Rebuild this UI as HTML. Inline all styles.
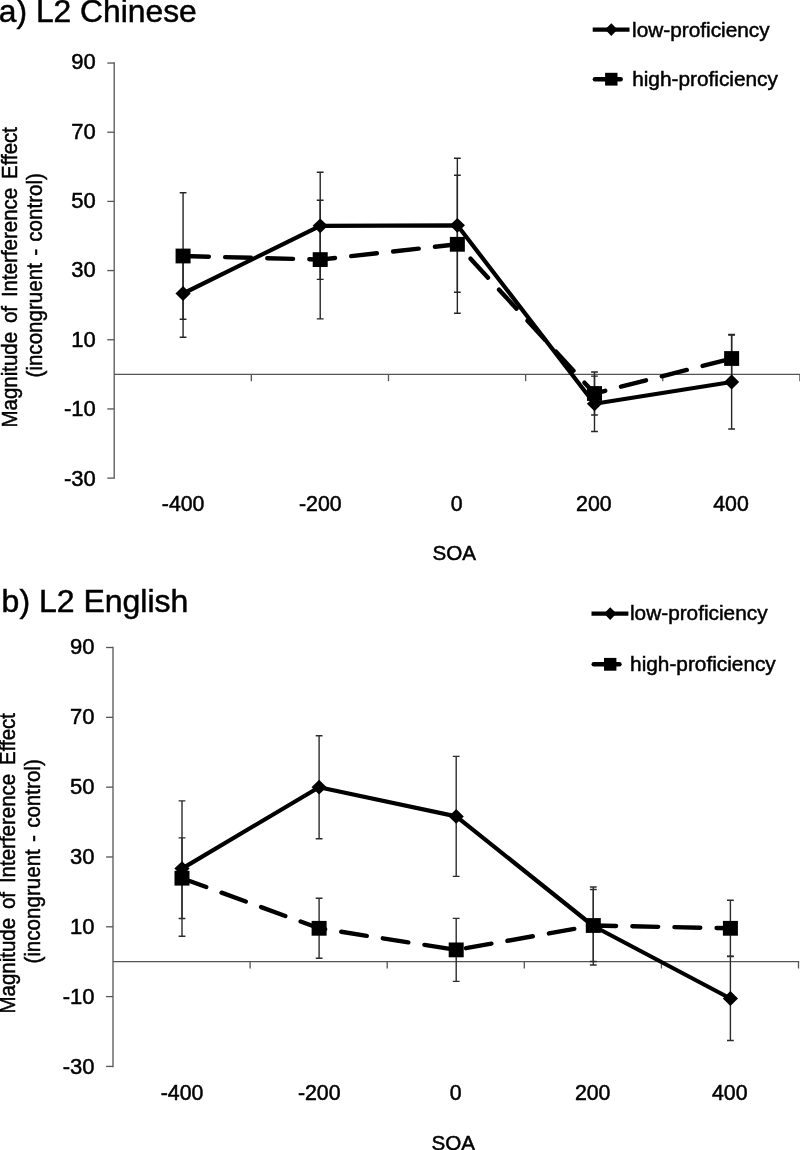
<!DOCTYPE html>
<html><head><meta charset="utf-8"><title>Figure</title>
<style>html,body{margin:0;padding:0;background:#fff}svg{display:block;will-change:transform}text{font-family:"Liberation Sans",sans-serif;fill:#000;stroke:#000;stroke-width:0.5px}</style></head>
<body><svg width="800" height="1150" viewBox="0 0 800 1150">
<rect width="800" height="1150" fill="#fff"/>
<path d="M114.20 62.34V478.82" stroke="#555" stroke-width="1.3" fill="none"/>
<path d="M107.30 63.04H114.20" stroke="#555" stroke-width="1.3" fill="none"/>
<text x="95.75" y="69.40" text-anchor="end" font-size="22">90</text>
<path d="M107.30 132.22H114.20" stroke="#555" stroke-width="1.3" fill="none"/>
<text x="95.75" y="138.76" text-anchor="end" font-size="22">70</text>
<path d="M107.30 201.40H114.20" stroke="#555" stroke-width="1.3" fill="none"/>
<text x="95.75" y="208.12" text-anchor="end" font-size="22">50</text>
<path d="M107.30 270.58H114.20" stroke="#555" stroke-width="1.3" fill="none"/>
<text x="95.75" y="277.48" text-anchor="end" font-size="22">30</text>
<path d="M107.30 339.76H114.20" stroke="#555" stroke-width="1.3" fill="none"/>
<text x="95.75" y="346.84" text-anchor="end" font-size="22">10</text>
<path d="M107.30 408.94H114.20" stroke="#555" stroke-width="1.3" fill="none"/>
<text x="95.75" y="416.20" text-anchor="end" font-size="22">-10</text>
<path d="M107.30 478.12H114.20" stroke="#555" stroke-width="1.3" fill="none"/>
<text x="95.75" y="485.56" text-anchor="end" font-size="22">-30</text>
<path d="M114.20 374.35H800.60" stroke="#555" stroke-width="1.3" fill="none"/>
<path d="M251.34 374.35v6.8" stroke="#555" stroke-width="1.3" fill="none"/>
<path d="M388.48 374.35v6.8" stroke="#555" stroke-width="1.3" fill="none"/>
<path d="M525.62 374.35v6.8" stroke="#555" stroke-width="1.3" fill="none"/>
<path d="M662.76 374.35v6.8" stroke="#555" stroke-width="1.3" fill="none"/>
<path d="M799.90 374.35v6.8" stroke="#555" stroke-width="1.3" fill="none"/>
<text x="183.17" y="511.22" text-anchor="middle" font-size="21.3">-400</text>
<text x="320.31" y="511.22" text-anchor="middle" font-size="21.3">-200</text>
<text x="456.75" y="511.22" text-anchor="middle" font-size="21.3">0</text>
<text x="593.89" y="511.22" text-anchor="middle" font-size="21.3">200</text>
<text x="731.03" y="511.22" text-anchor="middle" font-size="21.3">400</text>
<text x="454.35" y="560.02" text-anchor="middle" font-size="20.6">SOA</text>
<path d="M183.07 249.70V337.30M179.67 249.70h6.8M179.67 337.30h6.8" stroke="#262626" stroke-width="1.4" fill="none"/>
<path d="M320.21 172.20V279.40M316.81 172.20h6.8M316.81 279.40h6.8" stroke="#262626" stroke-width="1.4" fill="none"/>
<path d="M457.35 158.30V292.30M453.95 158.30h6.8M453.95 292.30h6.8" stroke="#262626" stroke-width="1.4" fill="none"/>
<path d="M594.49 376.10V431.50M591.09 376.10h6.8M591.09 431.50h6.8" stroke="#262626" stroke-width="1.4" fill="none"/>
<path d="M731.63 335.00V429.00M728.23 335.00h6.8M728.23 429.00h6.8" stroke="#262626" stroke-width="1.4" fill="none"/>
<path d="M183.07 192.80V319.20M179.67 192.80h6.8M179.67 319.20h6.8" stroke="#262626" stroke-width="1.4" fill="none"/>
<path d="M320.21 200.30V318.90M316.81 200.30h6.8M316.81 318.90h6.8" stroke="#262626" stroke-width="1.4" fill="none"/>
<path d="M457.35 175.30V313.30M453.95 175.30h6.8M453.95 313.30h6.8" stroke="#262626" stroke-width="1.4" fill="none"/>
<path d="M594.49 372.00V415.00M591.09 372.00h6.8M591.09 415.00h6.8" stroke="#262626" stroke-width="1.4" fill="none"/>
<path d="M731.63 334.50V382.50M728.23 334.50h6.8M728.23 382.50h6.8" stroke="#262626" stroke-width="1.4" fill="none"/>
<polyline points="183.07,293.50 320.21,225.80 457.35,225.30 594.49,403.80 731.63,382.00" stroke="#000" stroke-width="4.2" fill="none" stroke-linejoin="round"/>
<polyline points="183.07,256.00 320.21,259.60 457.35,244.30 594.49,393.50 731.63,358.50" stroke="#000" stroke-width="4.4" fill="none" stroke-linejoin="round" stroke-linecap="round" stroke-dasharray="25.8 16.3"/>
<path d="M183.07 286.10L190.67 293.50L183.07 300.90L175.47 293.50Z" fill="#000"/>
<path d="M320.21 218.40L327.81 225.80L320.21 233.20L312.61 225.80Z" fill="#000"/>
<path d="M457.35 217.90L464.95 225.30L457.35 232.70L449.75 225.30Z" fill="#000"/>
<path d="M594.49 396.40L602.09 403.80L594.49 411.20L586.89 403.80Z" fill="#000"/>
<path d="M731.63 374.60L739.23 382.00L731.63 389.40L724.03 382.00Z" fill="#000"/>
<rect x="175.57" y="248.60" width="15" height="14.8" fill="#000"/>
<rect x="312.71" y="252.20" width="15" height="14.8" fill="#000"/>
<rect x="449.85" y="236.90" width="15" height="14.8" fill="#000"/>
<rect x="586.99" y="386.10" width="15" height="14.8" fill="#000"/>
<rect x="724.13" y="351.10" width="15" height="14.8" fill="#000"/>
<text x="-1.2" y="22.4" font-size="31.8">a) L2 Chinese</text>
<text transform="translate(17.3 427.5) rotate(-90) scale(0.9105 1)" font-size="22.5" word-spacing="3.5">Magnitude of Interference Effect</text>
<text transform="translate(41.7 377.5) rotate(-90) scale(0.949 1)" font-size="21.7" word-spacing="1.6">(incongruent - control)</text>
<path d="M592.7 29.6H629.5" stroke="#000" stroke-width="4.3"/>
<path d="M611.3 23.3l6.2 6.3l-6.2 6.3l-6.2 -6.3Z" fill="#000"/>
<path d="M594.9000000000001 79.2h25.8" stroke="#000" stroke-width="4.4" stroke-linecap="round"/>
<rect x="605.0999999999999" y="72.8" width="12.4" height="12.8" fill="#000"/>
<text x="632.1" y="36.6" font-size="20.8">low-proficiency</text>
<text x="632.2" y="85.7" font-size="20.8">high-proficiency</text>
<path d="M113.00 646.81V1067.13" stroke="#555" stroke-width="1.3" fill="none"/>
<path d="M106.10 647.51H113.00" stroke="#555" stroke-width="1.3" fill="none"/>
<text x="94.55" y="654.45" text-anchor="end" font-size="22">90</text>
<path d="M106.10 717.33H113.00" stroke="#555" stroke-width="1.3" fill="none"/>
<text x="94.55" y="724.35" text-anchor="end" font-size="22">70</text>
<path d="M106.10 787.15H113.00" stroke="#555" stroke-width="1.3" fill="none"/>
<text x="94.55" y="794.25" text-anchor="end" font-size="22">50</text>
<path d="M106.10 856.97H113.00" stroke="#555" stroke-width="1.3" fill="none"/>
<text x="94.55" y="864.15" text-anchor="end" font-size="22">30</text>
<path d="M106.10 926.79H113.00" stroke="#555" stroke-width="1.3" fill="none"/>
<text x="94.55" y="934.05" text-anchor="end" font-size="22">10</text>
<path d="M106.10 996.61H113.00" stroke="#555" stroke-width="1.3" fill="none"/>
<text x="94.55" y="1003.95" text-anchor="end" font-size="22">-10</text>
<path d="M106.10 1066.43H113.00" stroke="#555" stroke-width="1.3" fill="none"/>
<text x="94.55" y="1073.85" text-anchor="end" font-size="22">-30</text>
<path d="M113.00 961.70H799.20" stroke="#555" stroke-width="1.3" fill="none"/>
<path d="M250.10 961.70v6.8" stroke="#555" stroke-width="1.3" fill="none"/>
<path d="M387.20 961.70v6.8" stroke="#555" stroke-width="1.3" fill="none"/>
<path d="M524.30 961.70v6.8" stroke="#555" stroke-width="1.3" fill="none"/>
<path d="M661.40 961.70v6.8" stroke="#555" stroke-width="1.3" fill="none"/>
<path d="M798.50 961.70v6.8" stroke="#555" stroke-width="1.3" fill="none"/>
<text x="182.10" y="1099.53" text-anchor="middle" font-size="21.3">-400</text>
<text x="319.20" y="1099.53" text-anchor="middle" font-size="21.3">-200</text>
<text x="455.60" y="1099.53" text-anchor="middle" font-size="21.3">0</text>
<text x="592.70" y="1099.53" text-anchor="middle" font-size="21.3">200</text>
<text x="729.80" y="1099.53" text-anchor="middle" font-size="21.3">400</text>
<text x="453.20" y="1149.63" text-anchor="middle" font-size="20.6">SOA</text>
<path d="M182.00 800.90V936.30M178.60 800.90h6.8M178.60 936.30h6.8" stroke="#2c2c2c" stroke-width="1.4" fill="none"/>
<path d="M319.10 735.70V838.70M315.70 735.70h6.8M315.70 838.70h6.8" stroke="#2c2c2c" stroke-width="1.4" fill="none"/>
<path d="M456.20 756.40V876.40M452.80 756.40h6.8M452.80 876.40h6.8" stroke="#2c2c2c" stroke-width="1.4" fill="none"/>
<path d="M593.30 887.00V965.00M589.90 887.00h6.8M589.90 965.00h6.8" stroke="#2c2c2c" stroke-width="1.4" fill="none"/>
<path d="M730.40 956.50V1040.50M727.00 956.50h6.8M727.00 1040.50h6.8" stroke="#2c2c2c" stroke-width="1.4" fill="none"/>
<path d="M182.00 837.90V918.50M178.60 837.90h6.8M178.60 918.50h6.8" stroke="#2c2c2c" stroke-width="1.4" fill="none"/>
<path d="M319.10 898.30V958.30M315.70 898.30h6.8M315.70 958.30h6.8" stroke="#2c2c2c" stroke-width="1.4" fill="none"/>
<path d="M456.20 918.40V981.40M452.80 918.40h6.8M452.80 981.40h6.8" stroke="#2c2c2c" stroke-width="1.4" fill="none"/>
<path d="M593.30 889.50V961.50M589.90 889.50h6.8M589.90 961.50h6.8" stroke="#2c2c2c" stroke-width="1.4" fill="none"/>
<path d="M730.40 900.30V956.30M727.00 900.30h6.8M727.00 956.30h6.8" stroke="#2c2c2c" stroke-width="1.4" fill="none"/>
<polyline points="182.00,868.60 319.10,787.20 456.20,816.40 593.30,926.00 730.40,998.50" stroke="#000" stroke-width="4.2" fill="none" stroke-linejoin="round"/>
<polyline points="182.00,878.20 319.10,928.30 456.20,949.90 593.30,925.50 730.40,928.30" stroke="#000" stroke-width="4.4" fill="none" stroke-linejoin="round" stroke-linecap="round" stroke-dasharray="25.8 16.3"/>
<path d="M182.00 861.20L189.60 868.60L182.00 876.00L174.40 868.60Z" fill="#000"/>
<path d="M319.10 779.80L326.70 787.20L319.10 794.60L311.50 787.20Z" fill="#000"/>
<path d="M456.20 809.00L463.80 816.40L456.20 823.80L448.60 816.40Z" fill="#000"/>
<path d="M593.30 918.60L600.90 926.00L593.30 933.40L585.70 926.00Z" fill="#000"/>
<path d="M730.40 991.10L738.00 998.50L730.40 1005.90L722.80 998.50Z" fill="#000"/>
<rect x="174.50" y="870.80" width="15" height="14.8" fill="#000"/>
<rect x="311.60" y="920.90" width="15" height="14.8" fill="#000"/>
<rect x="448.70" y="942.50" width="15" height="14.8" fill="#000"/>
<rect x="585.80" y="918.10" width="15" height="14.8" fill="#000"/>
<rect x="722.90" y="920.90" width="15" height="14.8" fill="#000"/>
<text x="1.6" y="611.6" font-size="32.0">b) L2 English</text>
<text transform="translate(15.4 1013.5) rotate(-90) scale(0.9105 1)" font-size="22.5" word-spacing="3.5">Magnitude of Interference Effect</text>
<text transform="translate(40.2 963.6) rotate(-90) scale(0.949 1)" font-size="21.7" word-spacing="1.6">(incongruent - control)</text>
<path d="M591.5 613.6H628.4" stroke="#000" stroke-width="4.3"/>
<path d="M610.2 607.3000000000001l6.2 6.3l-6.2 6.3l-6.2 -6.3Z" fill="#000"/>
<path d="M593.7 664.3h25.8" stroke="#000" stroke-width="4.4" stroke-linecap="round"/>
<rect x="604.0" y="657.9" width="12.4" height="12.8" fill="#000"/>
<text x="630.0" y="620.4" font-size="20.8">low-proficiency</text>
<text x="630.1" y="671.1" font-size="20.8">high-proficiency</text>
</svg></body></html>
